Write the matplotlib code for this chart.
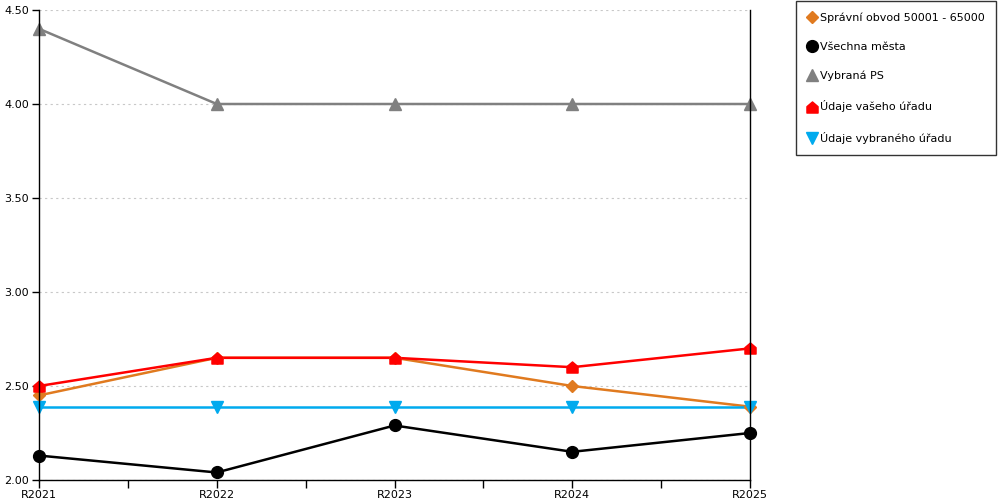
import matplotlib
matplotlib.use("Agg")
import matplotlib.pyplot as plt
import numpy as np
from matplotlib.path import Path

years = ["R2021", "R2022", "R2023", "R2024", "R2025"]
obvod = [2.45, 2.65, 2.65, 2.50, 2.39]
vsechna = [2.13, 2.04, 2.29, 2.15, 2.25]
vybrana_ps = [4.40, 4.00, 4.00, 4.00, 4.00]
vas_urad = [2.50, 2.65, 2.65, 2.60, 2.70]
vybrany_urad = [2.39, 2.39, 2.39, 2.39, 2.39]
yticks = [2.0, 2.5, 3.0, 3.5, 4.0, 4.5]

house = Path([(-1, -1), (1, -1), (1, 0.15), (0, 1), (-1, 0.15), (-1, -1)],
             [Path.MOVETO, Path.LINETO, Path.LINETO, Path.LINETO, Path.LINETO, Path.CLOSEPOLY])

plt.rcParams['font.family'] = ['DejaVu Sans']
fig = plt.figure(figsize=(10, 5), dpi=100)
ax = fig.add_axes([0.039, 0.04, 0.711, 0.94])

x = np.arange(len(years))
series = [
    ("Správní obvod 50001 - 65000", obvod, "#e07a1f", "D", 6.5),
    ("Všechna města", vsechna, "#000000", "o", 8.5),
    ("Vybraná PS", vybrana_ps, "#808080", "^", 8.5),
    ("Údaje vašeho úřadu", vas_urad, "#ff0000", house, 8),
    ("Údaje vybraného úřadu", vybrany_urad, "#00aaee", "v", 8.5),
]
handles = []
for label, vals, col, mk, ms in series:
    ax.plot(x, vals, color=col, lw=1.8, zorder=2, clip_on=False)
    ax.plot(x, vals, ls="none", marker=mk, ms=ms, color=col, mec=col, zorder=3, clip_on=False)
    h, = ax.plot([], [], ls="none", marker=mk, ms=ms, color=col, label=label)
    handles.append(h)

ax.set_xlim(0, len(years) - 1)
ax.set_ylim(2.0, 4.5)
ax.set_xticks(x)
ax.set_xticklabels(years)
ax.set_xticks(x[:-1] + 0.5, minor=True)
ax.set_yticks(yticks)
ax.set_yticklabels(["%.2f" % v for v in yticks])
ax.tick_params(axis="both", which="both", direction="out", length=6, width=1, labelsize=8, pad=1)
ax.tick_params(axis="y", length=5, pad=2)
ax.spines["top"].set_visible(False)
for s in ["left", "right", "bottom"]:
    ax.spines[s].set_linewidth(1)
    ax.spines[s].set_zorder(4)
ax.grid(axis="y", color="#c8c8c8", ls=(0, (2, 3)), lw=0.8)
ax.set_axisbelow(True)

leg = fig.legend(handles=handles, loc="upper left", bbox_to_anchor=(0.796, 0.998),
                 fontsize=8, frameon=True, fancybox=False, edgecolor="black",
                 handlelength=0.8, handletextpad=0.4, labelspacing=1.72,
                 borderpad=1.0, borderaxespad=0)
leg.get_frame().set_linewidth(1)

fig.savefig("out.png", dpi=100)
